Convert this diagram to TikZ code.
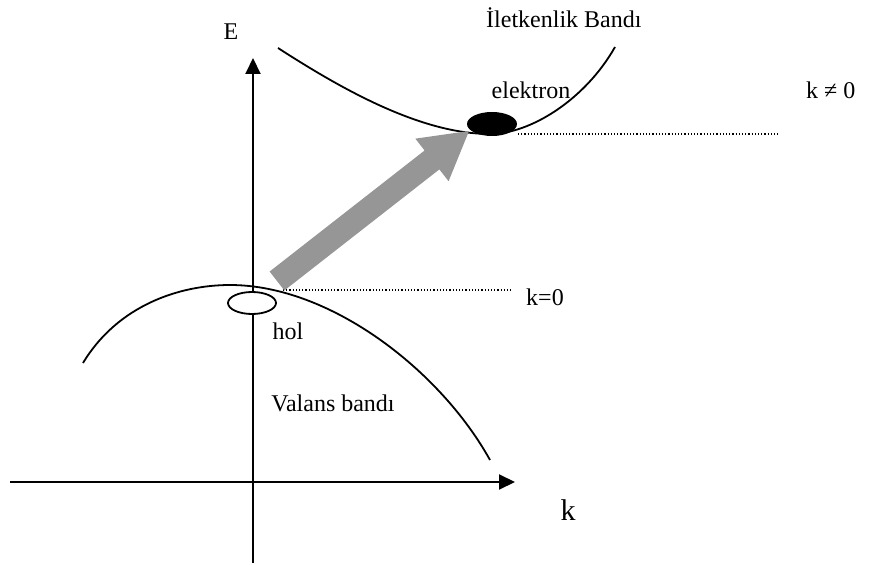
\documentclass[tikz,border=0pt]{standalone}
\usepackage{fontspec}
\setmainfont{Liberation Serif}
\usetikzlibrary{arrows.meta,calc,shapes.geometric}
\definecolor{arrowgray}{RGB}{150,150,150}
\begin{document}
\begin{tikzpicture}[x=1bp,y=-1bp,
  lbl/.style={inner sep=0pt, font=\fontsize{24bp}{28bp}\selectfont},
  axis/.style={line width=2bp, -{Triangle[length=16bp,width=15bp]}},
  band/.style={line width=1.8bp},
  guide/.style={line width=1.2bp, dash pattern=on 1.2bp off 2bp}]
\useasboundingbox (0,0) rectangle (877,565);
% axes
\coordinate (yb) at (253,563); \coordinate (yt) at (253,58);
\coordinate (xl) at (10,482); \coordinate (xr) at (515,482);
\draw[axis] (yb) -- (yt);
\draw[axis] (xl) -- (xr);
% dotted guides
\coordinate (d1a) at (283,290); \coordinate (d1b) at (513,290);
\coordinate (d2a) at (518,134); \coordinate (d2b) at (780,134);
\draw[guide] (d1a) -- (d1b);
\draw[guide] (d2a) -- (d2b);
% hole
\node[draw, ellipse, fill=white, line width=1.8bp, minimum width=48bp, minimum height=22bp, inner sep=0pt] (hole) at (252,303) {};
% conduction band
\draw[band] (278,48) .. controls (340,88) and (420,134) .. (490,134) .. controls (530,134) and (585,100) .. (615,47);
% valence band
\draw[band] (83,363) .. controls (118,305) and (180,285) .. (230,285) .. controls (330,285) and (440,370) .. (490,460);
% electron
\node[ellipse, fill=black, minimum width=50bp, minimum height=24bp, inner sep=0pt] (el) at (492,124) {};
% gray arrow
\coordinate (gs) at (277,281); \coordinate (gt) at (469,131);
\coordinate (hb) at ($(gt)!47bp!(gs)$);
\fill[arrowgray] ($(gs)!12bp!90:(gt)$) -- ($(hb)!12bp!90:(gt)$) -- ($(hb)!27bp!90:(gt)$) -- (gt) -- ($(hb)!27bp!-90:(gt)$) -- ($(hb)!12bp!-90:(gt)$) -- ($(gs)!12bp!-90:(gt)$) -- cycle;
% labels
\node[lbl] (E) at (231,32) {E};
\node[lbl, anchor=west] (cbl) at (486,18) {İletkenlik Bandı};
\node[lbl] (elab) at (531,90) {elektron};
\node[lbl, anchor=west] (kne) at (806,90) {k ≠ 0};
\node[lbl] (k0) at (545,297) {k=0};
\node[lbl] (hlab) at (288,331) {hol};
\node[lbl] (vlab) at (333,403) {Valans bandı};
\node[lbl, font=\fontsize{30bp}{34bp}\selectfont] (klab) at (568,510) {k};
\end{tikzpicture}
\end{document}
